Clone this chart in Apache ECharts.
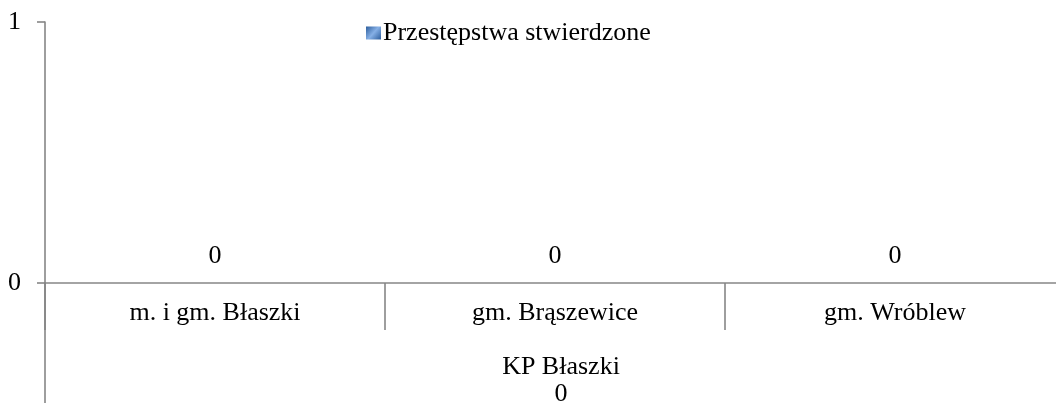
<!DOCTYPE html>
<html><head><meta charset="utf-8">
<script src="https://cdn.jsdelivr.net/npm/echarts@6/dist/echarts.min.js"></script>
<style>html,body{margin:0;padding:0;background:#fff}#c{width:1056px;height:403px}</style>
</head><body><div id="c"></div>
<script>
const categories = ['m. i gm. Błaszki', 'gm. Brąszewice', 'gm. Wróblew'];
const seriesName = 'Przestępstwa stwierdzone';
const values = [0, 0, 0];
const groupLabel = 'KP Błaszki';
const groupTotal = 0;
const yMin = 0, yMax = 1, yInterval = 1;

const font = '"Liberation Serif", "Times New Roman", serif';
const axisColor = '#868686';
const chart = echarts.init(document.getElementById('c'), null, {renderer: 'canvas'});
chart.setOption({
  animation: false,
  title: {
    text: groupLabel + '\n' + groupTotal,
    left: 556, top: 349, textAlign: 'center',
    textStyle: {fontFamily: font, fontSize: 26, fontWeight: 'normal', color: '#000', lineHeight: 27}
  },
  legend: {
    data: [{name: seriesName, icon: 'rect'}],
    left: 361, top: 15,
    itemWidth: 15, itemHeight: 13, itemGap: 4,
    textStyle: {fontFamily: font, fontSize: 26, color: '#000', padding: [0, 0, 0, -3]}
  },
  grid: [
    {left: 45, top: 22, right: -9, height: 261, outerBoundsMode: 'none', containLabel: false},
    {left: 45, top: 283, right: -9, bottom: -2, outerBoundsMode: 'none', containLabel: false}
  ],
  xAxis: [
    {
      type: 'category', gridIndex: 0, data: categories,
      axisLine: {lineStyle: {color: axisColor, width: 1.6}},
      axisTick: {show: true, alignWithLabel: false, length: 47, lineStyle: {color: axisColor, width: 1.6}},
      axisLabel: {fontFamily: font, fontSize: 26, color: '#000', margin: 17, interval: 0}
    },
    {
      type: 'category', gridIndex: 1, data: [groupLabel], show: false
    }
  ],
  yAxis: [
    {
      type: 'value', gridIndex: 0, min: yMin, max: yMax, interval: yInterval,
      splitLine: {show: false},
      axisLine: {show: true, lineStyle: {color: axisColor, width: 1.6}},
      axisTick: {show: true, length: 8, lineStyle: {color: axisColor, width: 1.6}},
      axisLabel: {fontFamily: font, fontSize: 26, color: '#000', margin: 24}
    },
    {
      type: 'value', gridIndex: 1, min: 0, max: 1, inverse: true,
      splitLine: {show: false},
      axisLine: {show: true, onZero: false, lineStyle: {color: axisColor, width: 1.6}},
      axisTick: {show: false}, axisLabel: {show: false}
    }
  ],
  series: [{
    name: seriesName, type: 'bar', xAxisIndex: 0, yAxisIndex: 0,
    data: values, barWidth: '40%',
    itemStyle: {color: new echarts.graphic.LinearGradient(0, 0, 1, 1, [
      {offset: 0, color: '#2c5d9c'}, {offset: 0.5, color: '#86b0e6'}, {offset: 1, color: '#2c5d9c'}])},
    label: {show: true, position: 'top', distance: 14, fontFamily: font, fontSize: 26, color: '#000'}
  }]
});
</script></body></html>
